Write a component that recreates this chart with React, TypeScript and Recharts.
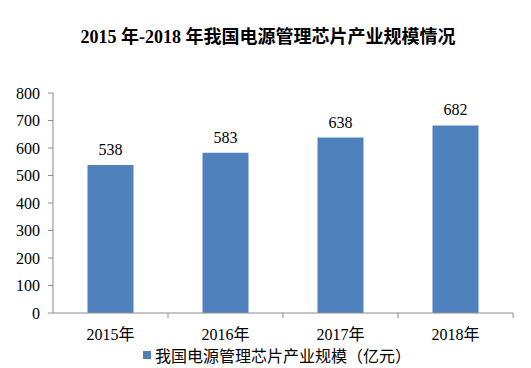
import React from "react";
import { BarChart, Bar, XAxis, YAxis, Legend, LabelList } from "recharts";

const categories = ["2015年", "2016年", "2017年", "2018年"];
const values = [538, 583, 638, 682];
const yTicks = [0, 100, 200, 300, 400, 500, 600, 700, 800];
const seriesName = "我国电源管理芯片产业规模（亿元）";
const title = "2015 年-2018 年我国电源管理芯片产业规模情况";

const data = categories.map((c, i) => ({ name: c, value: values[i] }));

const FONT = "'Liberation Serif', 'Noto Sans CJK SC', serif";
const BLUE = "#4F81BD";
const AXIS = "#8C8C8C";

const XTick = (props: any) => {
  const { x, y, payload, width, visibleTicksCount } = props;
  const band = width / (visibleTicksCount || categories.length);
  const bx = x + band / 2;
  return (
    <g>
      <line x1={bx} y1={y - 8} x2={bx} y2={y - 3} stroke={AXIS} strokeWidth={1} />
      <text
        x={x}
        y={y + 19}
        textAnchor="middle"
        fontFamily={FONT}
        fontSize={16}
        fill="#000"
      >
        {payload.value}
      </text>
    </g>
  );
};

const LegendContent = () => (
  <div
    style={{
      position: "absolute",
      left: 143,
      top: 2,
      display: "flex",
      alignItems: "center",
      fontFamily: "'Noto Sans CJK SC', sans-serif",
      fontSize: 16,
      lineHeight: "20px",
      color: "#000",
      whiteSpace: "nowrap",
    }}
  >
    <span
      style={{
        display: "inline-block",
        width: 8,
        height: 8,
        background: BLUE,
        marginRight: 4,
      }}
    />
    <span style={{ letterSpacing: 0 }}>{seriesName}</span>
  </div>
);

export default function App() {
  return (
    <div style={{ position: "absolute", left: 0, top: 0, width: 531, height: 368, background: "#fff" }}>
      <div
        style={{
          position: "absolute",
          top: 22,
          left: 0,
          width: 536,
          textAlign: "center",
          fontFamily: FONT,
          fontWeight: "bold",
          fontSize: 18,
          color: "#000",
          zIndex: 2,
        }}
      >
        {title}
      </div>
      <BarChart
        width={531}
        height={368}
        data={data}
        margin={{ top: 93, right: 18, left: 0, bottom: 0 }}
        barCategoryGap="30%"
      >
        <YAxis
          domain={[0, 800]}
          ticks={yTicks}
          width={53}
          interval={0}
          tickSize={5}
          tickMargin={8}
          axisLine={{ stroke: AXIS }}
          tickLine={{ stroke: AXIS }}
          tick={{ fontFamily: FONT, fontSize: 16, fill: "#000" }}
        />
        <XAxis
          dataKey="name"
          height={30}
          interval={0}
          axisLine={{ stroke: AXIS }}
          tickLine={false}
          tick={<XTick />}
        />
        <Legend
          verticalAlign="bottom"
          height={25}
          wrapperStyle={{ left: 0, width: 531 }}
          content={<LegendContent />}
        />
        <Bar dataKey="value" name={seriesName} fill={BLUE} isAnimationActive={false}>
          <LabelList
            dataKey="value"
            position="top"
            offset={10}
            fontFamily={FONT}
            fontSize={16}
            fill="#000"
          />
        </Bar>
      </BarChart>
    </div>
  );
}
